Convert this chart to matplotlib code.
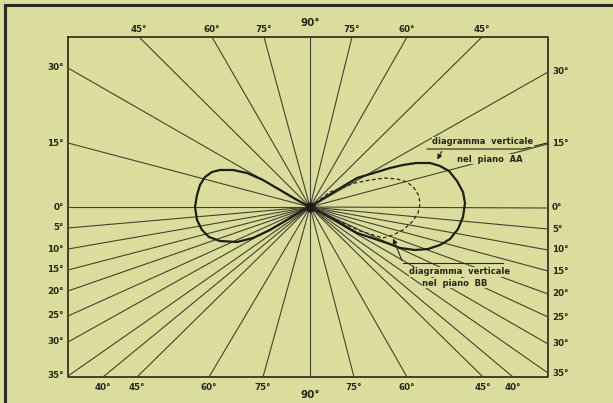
import numpy as np
import matplotlib.pyplot as plt

# frame edges (pixel-like units, centre of the rays at 0,0)
frame_left, frame_right, frame_top, frame_bottom = -242, 238, 170, -170

# where the rays meet the frame, with their angle labels
top_x = [-171, -98, -46, 0, 42, 97, 172]
top_labels = ['45°', '60°', '75°', '90°', '75°', '60°', '45°']
left_y = [139, 64, 0, -21, -42, -63, -84, -109, -135, -169]
left_labels = ['30°', '15°', '0°', '5°', '10°', '15°', '20°', '25°', '30°', '35°']
right_y = [135, 63, -1, -22, -43, -64, -87, -110, -137, -166]
right_labels = ['30°', '15°', '0°', '5°', '10°', '15°', '20°', '25°', '30°', '35°']
bottom_x = [-207, -173, -101, -47, 0, 44, 97, 173, 203]
bottom_labels = ['40°', '45°', '60°', '75°', '90°', '75°', '60°', '45°', '40°']

# vertical pattern, plane AA (solid)
aa_left_x = [0, -13, -30, -47, -63, -77, -90, -98, -105, -110, -113, -115, -113, -108, -101, -90, -73, -57, -40, -23, -7, 0]
aa_left_y = [0, 7, 17, 27, 34, 37, 37, 35, 30, 22, 12, 0, -13, -23, -30, -34, -35, -31, -23, -13, -3, 0]
aa_right_x = [0, 27, 47, 67, 80, 93, 106, 120, 130, 139, 147, 153, 155, 153, 148, 140, 130, 118, 105, 90, 77, 47, 20, 0]
aa_right_y = [0, 17, 29, 35, 39, 42, 44, 44, 41, 36, 26, 15, 4, -10, -22, -32, -38, -42, -43, -41, -36, -26, -10, 0]

# vertical pattern, plane BB (dashed)
bb_x = [0, 20, 45, 60, 75, 87, 97, 104, 109, 110, 108, 103, 93, 83, 73, 50, 25, 0]
bb_y = [0, 15, 24, 27, 29, 28, 25, 19, 11, 3, -6, -14, -23, -28, -31, -24, -12, 0]

bg = '#dadd9b'
ink = '#26261c'
ray = '#434332'

fig = plt.figure(figsize=(6.13, 4.03), dpi=100, facecolor=bg)
ax = fig.add_axes([0, 0, 1, 1])
ax.set_xlim(-310, 303)
ax.set_ylim(-196, 207)
ax.set_facecolor(bg)
ax.axis('off')

# outer border of the page (top and left only)
ax.plot([-305, 303], [202, 202], color='#2a2a22', lw=2.2)
ax.plot([-305, -305], [-196, 202], color='#2a2a22', lw=2.2)

# frame
ax.plot([frame_left, frame_right, frame_right, frame_left, frame_left],
        [frame_top, frame_top, frame_bottom, frame_bottom, frame_top],
        color=ink, lw=1.2)

# rays
for x in top_x:
    ax.plot([0, x], [0, frame_top], color=ray, lw=0.8)
for x in bottom_x:
    ax.plot([0, x], [0, frame_bottom], color=ray, lw=0.8)
for y in left_y:
    ax.plot([0, frame_left], [0, y], color=ray, lw=0.8)
for y in right_y:
    ax.plot([0, frame_right], [0, y], color=ray, lw=0.8)

# labels
fs = 6.3
for x, t in zip(top_x, top_labels):
    big = t == '90°'
    ax.text(x, 184 if big else 177, t, ha='center', va='center',
            fontsize=7.5 if big else fs, color=ink, fontweight='bold')
for x, t in zip(bottom_x, bottom_labels):
    big = t == '90°'
    ax.text(x, -188 if big else -180, t, ha='center', va='center',
            fontsize=7.5 if big else fs, color=ink, fontweight='bold')
for y, t in zip(left_y, left_labels):
    ax.text(frame_left - 4, y, t, ha='right', va='center', fontsize=fs,
            color=ink, fontweight='bold')
for y, t in zip(right_y, right_labels):
    ax.text(frame_right + 4, y, t, ha='left', va='center', fontsize=fs,
            color=ink, fontweight='bold')

# patterns
ax.plot(aa_left_x, aa_left_y, color='#1e1e16', lw=1.6, solid_joinstyle='round')
ax.plot(aa_right_x, aa_right_y, color='#1e1e16', lw=1.6, solid_joinstyle='round')
ax.plot(bb_x, bb_y, color='#2a2a20', lw=0.9, ls=(0, (3, 2)))

# dark blob where the rays meet
ax.scatter([0], [0], s=40, color='#1e1e16', zorder=5)

# annotation AA
box = dict(facecolor=bg, edgecolor='none', pad=0.5)
ax.text(173, 65, 'diagramma  verticale', ha='center', va='center', fontsize=6,
        fontweight='bold', color=ink, bbox=box)
ax.text(180, 48, 'nel  piano  AA', ha='center', va='center', fontsize=6,
        fontweight='bold', color=ink, bbox=box)
ax.plot([117, 213, 237], [58, 58, 64], color=ink, lw=0.8)
ax.annotate('', xy=(126, 45), xytext=(133, 58),
            arrowprops=dict(arrowstyle='-|>', color=ink, lw=0.8, mutation_scale=7))

# annotation BB
ax.text(150, -65, 'diagramma  verticale', ha='center', va='center', fontsize=6,
        fontweight='bold', color=ink, bbox=box)
ax.text(145, -76, 'nel  piano  BB', ha='center', va='center', fontsize=6,
        fontweight='bold', color=ink, bbox=box)
ax.plot([193, 93], [-56, -56], color=ink, lw=0.8)
ax.annotate('', xy=(82, -29), xytext=(93, -56),
            arrowprops=dict(arrowstyle='-|>', color=ink, lw=0.8, mutation_scale=7))

fig.savefig('out.png', dpi=100, facecolor=bg)
